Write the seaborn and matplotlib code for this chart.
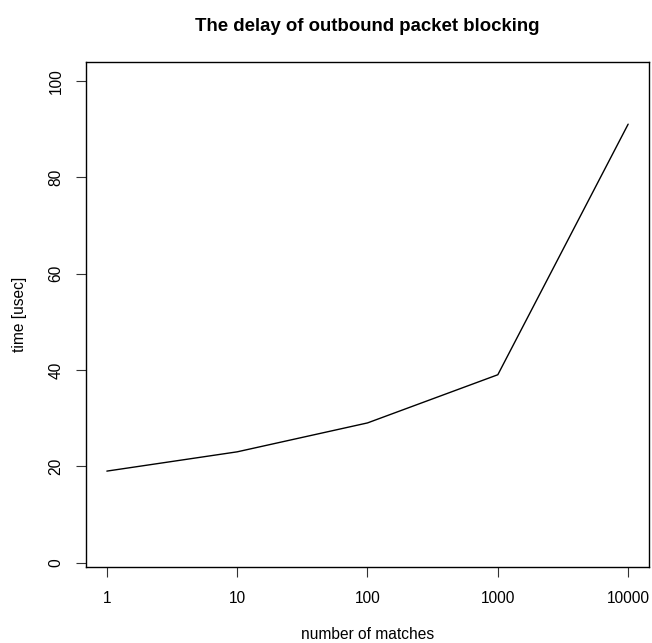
import matplotlib
matplotlib.use("Agg")
import matplotlib.pyplot as plt
import seaborn as sns
import pandas as pd

matches = [1, 10, 100, 1000, 10000]
time_usec = [19, 23, 29, 39, 91]
x_ticks = [1, 10, 100, 1000, 10000]
x_tick_labels = ["1", "10", "100", "1000", "10000"]
y_ticks = [0, 20, 40, 60, 80, 100]

df = pd.DataFrame({"matches": matches, "time": time_usec})

sns.set_style("white")
plt.rcParams["font.family"] = ["Liberation Sans", "DejaVu Sans"]
plt.rcParams["text.color"] = "black"
plt.rcParams["axes.labelcolor"] = "black"
plt.rcParams["xtick.color"] = "black"
plt.rcParams["ytick.color"] = "black"

fig = plt.figure(figsize=(6.52, 6.43), dpi=100)
ax = fig.add_axes([86/652, 1-567/643, (649-86)/652, (567-62)/643])
sns.lineplot(data=df, x="matches", y="time", color="black", linewidth=1.0, ax=ax)
ax.set_xscale("log")
ax.set_xlim(10**-0.16, 10**4.16)
ax.set_ylim(-0.9, 103.9)
ax.set_xticks(x_ticks)
ax.set_xticklabels(x_tick_labels)
ax.minorticks_off()
ax.set_yticks(y_ticks)
ax.set_yticklabels([str(v) for v in y_ticks], rotation=90, va="center")
for s in ax.spines.values():
    s.set_visible(True)
    s.set_color("black")
    s.set_linewidth(1.0)
ax.tick_params(axis="both", direction="out", length=7.2, width=0.8, color="#333333",
               labelsize=11.2, labelcolor="black", bottom=True, left=True)
ax.tick_params(axis="x", pad=10)
ax.tick_params(axis="y", pad=9)
ax.set_xlabel("number of matches", fontsize=11.2, labelpad=15, color="black")
ax.set_ylabel("time [usec]", fontsize=11.2, labelpad=15.5, color="black")
ax.set_title("The delay of outbound packet blocking", fontsize=13.4, fontweight="bold",
             pad=22, color="black")
fig.savefig("out.png", dpi=100)
